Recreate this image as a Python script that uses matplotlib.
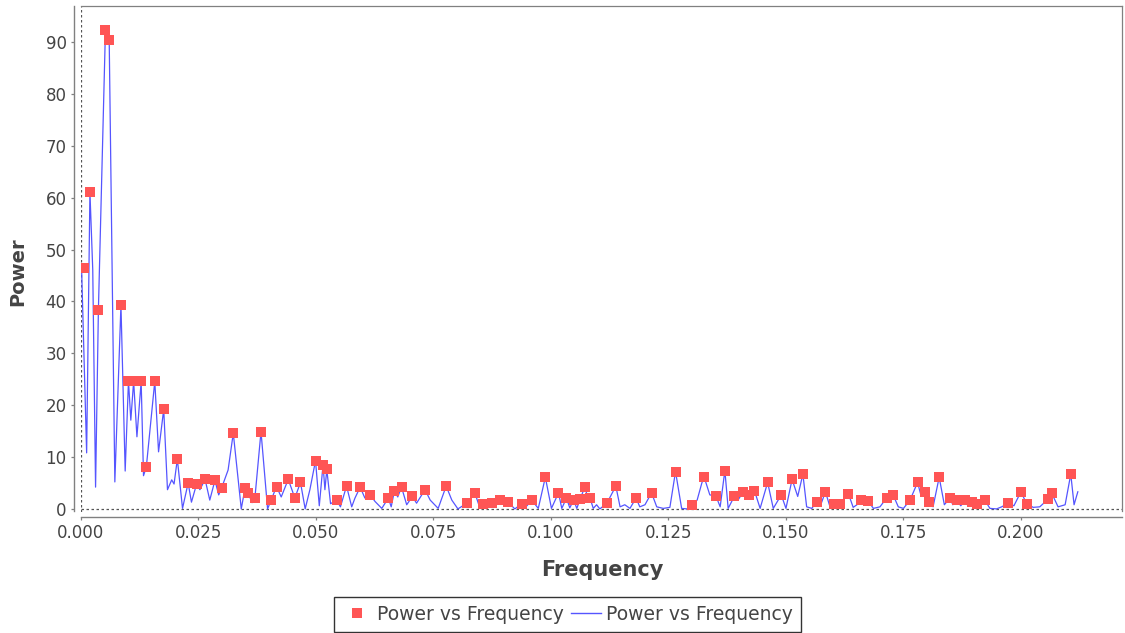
import matplotlib
matplotlib.use("Agg")
import matplotlib.pyplot as plt
from matplotlib.lines import Line2D
from matplotlib.ticker import FormatStrFormatter

# ---- data: dense line series (frequency, power) ----
line_freq = [0.0001, 0.0012, 0.0019, 0.0025, 0.0031, 0.0037, 0.0052, 0.0060, 0.0072, 0.0085,
             0.0094, 0.0101, 0.0106, 0.0112, 0.0119, 0.0128, 0.0133, 0.0139, 0.0157, 0.0165,
             0.0176, 0.0184, 0.0193, 0.0198, 0.0205, 0.0216, 0.0228, 0.0235, 0.0246, 0.0253,
             0.0264, 0.0274, 0.0285, 0.0293, 0.0299, 0.0313, 0.0324, 0.0341, 0.0349, 0.0356,
             0.0364, 0.0370, 0.0383, 0.0397, 0.0405, 0.0416, 0.0426, 0.0441, 0.0455, 0.0467,
             0.0477, 0.0487, 0.0499, 0.0507, 0.0515, 0.0519, 0.0523, 0.0531, 0.0544, 0.0552,
             0.0565, 0.0576, 0.0583, 0.0594, 0.0604, 0.0615, 0.0626, 0.0640, 0.0654, 0.0660,
             0.0667, 0.0674, 0.0682, 0.0693, 0.0705, 0.0714, 0.0732, 0.0743, 0.0760, 0.0777,
             0.0789, 0.0802, 0.0821, 0.0838, 0.0849, 0.0856, 0.0865, 0.0874, 0.0891, 0.0900,
             0.0908, 0.0923, 0.0938, 0.0947, 0.0959, 0.0973, 0.0988, 0.1001, 0.1016, 0.1023,
             0.1033, 0.1040, 0.1048, 0.1055, 0.1062, 0.1072, 0.1078, 0.1083, 0.1090, 0.1097,
             0.1104, 0.1119, 0.1138, 0.1147, 0.1157, 0.1168, 0.1181, 0.1189, 0.1200, 0.1214,
             0.1225, 0.1239, 0.1253, 0.1265, 0.1278, 0.1289, 0.1301, 0.1311, 0.1321, 0.1326,
             0.1338, 0.1351, 0.1360, 0.1370, 0.1377, 0.1390, 0.1398, 0.1409, 0.1421, 0.1433,
             0.1445, 0.1461, 0.1473, 0.1490, 0.1500, 0.1513, 0.1525, 0.1536, 0.1544, 0.1555,
             0.1565, 0.1574, 0.1584, 0.1594, 0.1603, 0.1609, 0.1615, 0.1633, 0.1643, 0.1651,
             0.1660, 0.1668, 0.1675, 0.1686, 0.1700, 0.1714, 0.1728, 0.1739, 0.1750, 0.1764,
             0.1780, 0.1787, 0.1796, 0.1804, 0.1813, 0.1826, 0.1837, 0.1849, 0.1855, 0.1863,
             0.1872, 0.1881, 0.1887, 0.1895, 0.1900, 0.1906, 0.1913, 0.1923, 0.1934, 0.1948,
             0.1959, 0.1973, 0.1985, 0.2000, 0.2012, 0.2026, 0.2040, 0.2058, 0.2065, 0.2079,
             0.2094, 0.2106, 0.2113, 0.2121]
line_power = [47.2, 10.8, 61.1, 46.1, 4.2, 38.3, 92.3, 90.4, 5.2, 39.3,
              7.3, 24.7, 17.1, 24.6, 13.9, 24.6, 6.4, 8.1, 24.6, 11.0,
              19.2, 3.7, 5.6, 4.8, 9.6, 0.1, 5.0, 1.3, 4.8, 3.7,
              5.7, 1.7, 5.5, 2.7, 4.0, 7.5, 14.6, 0.0, 4.0, 3.0,
              1.2, 2.1, 14.9, 0.0, 1.8, 4.3, 2.3, 5.7, 2.1, 5.1,
              0.0, 3.7, 9.3, 0.6, 8.5, 3.7, 7.6, 1.0, 1.7, 0.4,
              4.4, 0.4, 2.1, 4.2, 2.1, 2.7, 1.4, 0.1, 2.1, 0.4,
              3.5, 2.3, 4.2, 0.8, 2.4, 1.1, 3.7, 1.7, 0.1, 4.4,
              1.7, 0.0, 1.1, 3.1, 0.1, 1.0, 0.3, 1.1, 1.7, 0.8,
              1.4, 0.0, 1.0, 0.4, 1.7, 0.1, 6.1, 0.1, 3.1, 0.1,
              2.1, 0.2, 1.7, 0.1, 1.9, 4.2, 2.3, 2.1, 0.1, 0.8,
              0.0, 1.1, 4.4, 0.4, 0.8, 0.1, 2.1, 0.4, 0.8, 3.1,
              0.4, 0.1, 0.3, 7.2, 0.1, 0.0, 0.8, 1.7, 5.0, 6.1,
              2.7, 2.5, 0.4, 7.4, 0.1, 2.4, 1.7, 3.3, 2.7, 3.5,
              0.1, 5.1, 0.1, 2.7, 0.1, 5.7, 2.4, 6.7, 0.4, 0.1,
              1.4, 0.8, 3.3, 0.3, 1.0, 0.4, 1.0, 2.9, 0.3, 0.8,
              1.7, 0.8, 1.5, 0.1, 0.4, 2.1, 2.7, 0.4, 0.1, 1.7,
              5.1, 2.7, 3.3, 1.4, 0.4, 6.1, 0.8, 2.1, 0.8, 1.7,
              0.6, 1.7, 0.6, 1.4, 0.6, 1.0, 0.4, 1.7, 0.1, 0.0,
              0.4, 1.1, 0.6, 3.3, 1.0, 0.3, 0.4, 1.9, 3.1, 0.4,
              0.8, 6.7, 0.8, 3.3]

# ---- data: marker series (frequency, power) ----
marker_freq = [0.0007, 0.0019, 0.0037, 0.0052, 0.0060, 0.0085, 0.0101, 0.0112, 0.0128, 0.0139,
               0.0157, 0.0176, 0.0205, 0.0228, 0.0246, 0.0264, 0.0285, 0.0299, 0.0324, 0.0349,
               0.0356, 0.0370, 0.0383, 0.0405, 0.0416, 0.0441, 0.0455, 0.0467, 0.0499, 0.0515,
               0.0523, 0.0544, 0.0565, 0.0594, 0.0615, 0.0654, 0.0667, 0.0682, 0.0705, 0.0732,
               0.0777, 0.0821, 0.0838, 0.0856, 0.0874, 0.0891, 0.0908, 0.0938, 0.0959, 0.0988,
               0.1016, 0.1033, 0.1048, 0.1062, 0.1072, 0.1083, 0.1119, 0.1138, 0.1181, 0.1214,
               0.1265, 0.1301, 0.1326, 0.1351, 0.1370, 0.1390, 0.1409, 0.1421, 0.1433, 0.1461,
               0.1490, 0.1513, 0.1536, 0.1565, 0.1584, 0.1603, 0.1615, 0.1633, 0.1660, 0.1675,
               0.1714, 0.1728, 0.1764, 0.1780, 0.1796, 0.1804, 0.1826, 0.1849, 0.1863, 0.1881,
               0.1895, 0.1906, 0.1923, 0.1973, 0.2000, 0.2012, 0.2058, 0.2065, 0.2106]
marker_power = [46.5, 61.1, 38.3, 92.3, 90.4, 39.3, 24.7, 24.6, 24.6, 8.1,
                24.6, 19.2, 9.6, 5.0, 4.8, 5.7, 5.5, 4.0, 14.6, 4.0,
                3.0, 2.1, 14.9, 1.8, 4.3, 5.7, 2.1, 5.1, 9.3, 8.5,
                7.6, 1.7, 4.4, 4.2, 2.7, 2.1, 3.5, 4.2, 2.4, 3.7,
                4.4, 1.1, 3.1, 1.0, 1.1, 1.7, 1.4, 1.0, 1.7, 6.1,
                3.1, 2.1, 1.7, 1.9, 4.2, 2.1, 1.1, 4.4, 2.1, 3.1,
                7.2, 0.8, 6.1, 2.5, 7.4, 2.4, 3.3, 2.7, 3.5, 5.1,
                2.7, 5.7, 6.7, 1.4, 3.3, 1.0, 1.0, 2.9, 1.7, 1.5,
                2.1, 2.7, 1.7, 5.1, 3.3, 1.4, 6.1, 2.1, 1.7, 1.7,
                1.4, 1.0, 1.7, 1.1, 3.3, 1.0, 1.9, 3.1, 6.7]

x_ticks = [0.000, 0.025, 0.050, 0.075, 0.100, 0.125, 0.150, 0.175, 0.200]
y_ticks = [0, 10, 20, 30, 40, 50, 60, 70, 80, 90]
series_name = "Power vs Frequency"
x_label = "Frequency"
y_label = "Power"

RED = "#FF5555"
BLUE = "#5555FF"
TXT = "#444444"
AX = "#808080"

W, H = 1125, 633
fig = plt.figure(figsize=(W / 100, H / 100), dpi=100)
fig.patch.set_facecolor("white")

l, r, t, b = 81, 1122, 5.7, 511.5
ax = fig.add_axes([l / W, 1 - b / H, (r - l) / W, (b - t) / H])
ax.set_facecolor("white")

ax.plot(line_freq, line_power, color=BLUE, lw=0.9, zorder=3, clip_on=True)
ax.plot(marker_freq, marker_power, linestyle="none", marker="s", ms=7,
        mfc=RED, mec=RED, mew=0, zorder=4, clip_on=True)

ax.axhline(0, color="#555555", lw=0.9, ls=(0, (2, 2)), zorder=2)
ax.axvline(0, color="#555555", lw=0.9, ls=(0, (2, 2)), zorder=2)

ax.set_xlim(0, 0.2215)
ax.set_ylim(-0.5, 97.0)
ax.set_xticks(x_ticks)
ax.set_yticks(y_ticks)
ax.xaxis.set_major_formatter(FormatStrFormatter("%.3f"))

for s in ["top", "right"]:
    ax.spines[s].set_color(AX)
    ax.spines[s].set_linewidth(0.9)
ax.spines["left"].set_position(("outward", 5.4))
ax.spines["bottom"].set_position(("outward", 4.3))
for s in ["left", "bottom"]:
    ax.spines[s].set_color(AX)
    ax.spines[s].set_linewidth(1.0)

ax.tick_params(axis="both", direction="out", length=2.5, width=0.9, color=AX,
               labelcolor=TXT, labelsize=12, pad=2.5)

fig.text(602 / W, 1 - 570 / H, x_label, ha="center", va="center",
         fontsize=15, fontweight="bold", color=TXT)
fig.text(18 / W, 1 - 272 / H, y_label, ha="center", va="center", rotation=90,
         fontsize=14, fontweight="bold", color=TXT)

handles = [Line2D([], [], linestyle="none", marker="s", ms=7, mfc=RED, mec=RED, mew=0),
           Line2D([], [], color=BLUE, lw=1.0)]
leg = fig.legend(handles, [series_name, series_name], loc="center",
                 bbox_to_anchor=(567.5 / W, 1 - 614.5 / H), ncol=2, fontsize=13.5,
                 frameon=True, fancybox=False, framealpha=1, edgecolor="#333333",
                 handlelength=1.6, handletextpad=0.25, columnspacing=0.4,
                 borderpad=0.42, borderaxespad=0)
leg.get_frame().set_linewidth(1.0)
for txt in leg.get_texts():
    txt.set_color(TXT)

fig.savefig("out.png", dpi=100, facecolor="white")
